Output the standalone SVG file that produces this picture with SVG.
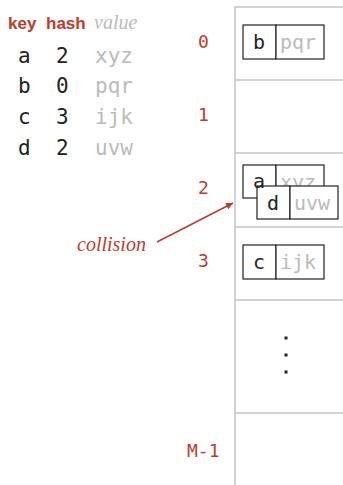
<svg xmlns="http://www.w3.org/2000/svg" width="343" height="485" viewBox="0 0 343 485">
<defs>
<style>
.hdr{font-family:"Liberation Sans",Arial,sans-serif;font-weight:bold;font-size:17px;fill:#c0392b}
.hval{font-family:"Liberation Serif",serif;font-style:italic;font-size:20px;fill:#bbbbbb}
.k{font-family:"DejaVu Sans Mono",monospace;font-size:20px;fill:#222}
.v{font-family:"DejaVu Sans Mono",monospace;font-size:20px;fill:#bbbbbb}
.rk{font-family:"DejaVu Sans Mono",monospace;font-size:21px;fill:#222}
.rv{font-family:"DejaVu Sans Mono",monospace;font-size:21px;fill:#bbbbbb}
.idx{font-family:"DejaVu Sans Mono",monospace;font-size:18px;fill:#c0392b}
.coll{font-family:"Liberation Serif",serif;font-style:italic;font-size:20px;fill:#c0392b}
.grid{stroke:#c4c4c4;stroke-width:1.5;fill:none}
.cell{fill:#fff;stroke:#222;stroke-width:1.2}
.dot{fill:#222}
</style>
<marker id="ah" viewBox="0 0 10 10" refX="10" refY="5" markerWidth="10" markerHeight="7" markerUnits="userSpaceOnUse" orient="auto">
<path d="M0,0 L10,5 L0,10 z" fill="#c0392b"/>
</marker>
</defs>
<g id="table">
<text class="hdr" x="8" y="29">key</text>
<text class="hdr" x="46" y="29">hash</text>
<text class="hval" x="94" y="29">value</text>
<text class="rk" x="18" y="63">a</text><text class="rk" x="56" y="63">2</text><text class="rv" x="95" y="63">xyz</text>
<text class="rk" x="18" y="93">b</text><text class="rk" x="56" y="93">0</text><text class="rv" x="95" y="93">pqr</text>
<text class="rk" x="18" y="124">c</text><text class="rk" x="56" y="124">3</text><text class="rv" x="95" y="124">ijk</text>
<text class="rk" x="18" y="155">d</text><text class="rk" x="56" y="155">2</text><text class="rv" x="95" y="155">uvw</text>
</g>
<g id="array">
<path class="grid" d="M235,485 V7 H343 M235,80 H343 M235,153 H343 M235,227 H343 M235,300 H343 M235,413 H343"/>
<text class="idx" x="198" y="48">0</text>
<text class="idx" x="198" y="121">1</text>
<text class="idx" x="198" y="194">2</text>
<text class="idx" x="198" y="267">3</text>
<text class="idx" x="187" y="457">M-1</text>
<rect class="dot" x="284.5" y="336.5" width="3" height="3"/>
<rect class="dot" x="284.5" y="353.5" width="3" height="3"/>
<rect class="dot" x="284.5" y="370.5" width="3" height="3"/>
</g>
<g id="node-b">
<rect class="cell" x="243" y="25" width="33" height="34"/>
<rect class="cell" x="276" y="25" width="48" height="34"/>
<text class="k" x="253" y="49">b</text>
<text class="v" x="280" y="49">pqr</text>
</g>
<g id="node-a">
<rect class="cell" x="243" y="165" width="33" height="33"/>
<rect class="cell" x="276" y="165" width="48" height="33"/>
<text class="v" x="280" y="189">xyz</text>
</g>
<g id="node-d">
<rect class="cell" x="257" y="186" width="33" height="33"/>
<rect class="cell" x="290" y="186" width="48" height="33"/>
<text class="k" x="253" y="188">a</text>
<text class="k" x="267" y="210">d</text>
<text class="v" x="294" y="210">uvw</text>
</g>
<g id="node-c">
<rect class="cell" x="243" y="245" width="33" height="34"/>
<rect class="cell" x="276" y="245" width="48" height="34"/>
<text class="k" x="253" y="269">c</text>
<text class="v" x="280" y="269">ijk</text>
</g>
<g id="connectors">
<text class="coll" x="77" y="251">collision</text>
<line x1="157" y1="242" x2="233" y2="203" stroke="#c0392b" stroke-width="1.5" marker-end="url(#ah)"/>
</g>
</svg>
